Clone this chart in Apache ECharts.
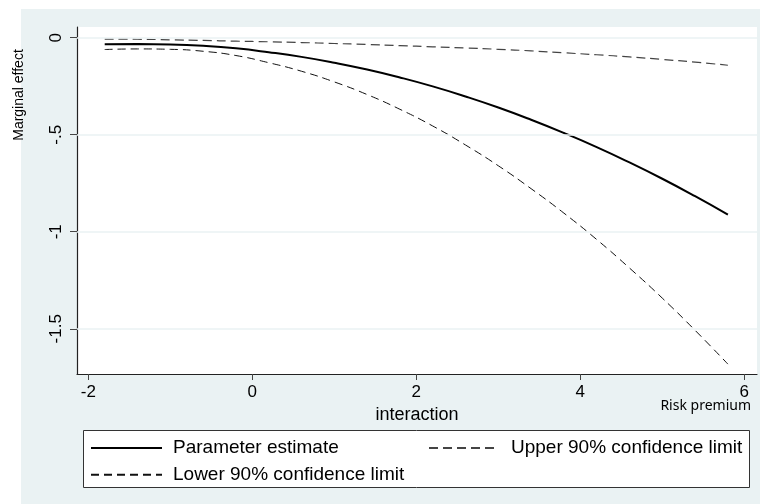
<!DOCTYPE html>
<html>
<head>
<meta charset="utf-8">
<script src="https://cdn.jsdelivr.net/npm/echarts@6/dist/echarts.min.js"></script>
<style>
html,body{margin:0;padding:0;background:#fff;}
#c{width:762px;height:504px;}
</style>
</head>
<body>
<div id="c"></div>
<script>
var xs = [-1.8,-1.4,-1,-0.6,-0.2,0.2,0.6,1,1.4,1.8,2.2,2.6,3,3.4,3.8,4.2,4.6,5,5.4,5.8];
var estimate = [-0.034,-0.033,-0.035,-0.042,-0.055,-0.075,-0.099,-0.129,-0.164,-0.205,-0.251,-0.303,-0.360,-0.423,-0.491,-0.564,-0.643,-0.727,-0.817,-0.912];
var upper = [-0.007,-0.008,-0.011,-0.014,-0.018,-0.021,-0.025,-0.030,-0.035,-0.041,-0.047,-0.053,-0.060,-0.068,-0.078,-0.088,-0.099,-0.112,-0.126,-0.142];
var lower = [-0.061,-0.058,-0.060,-0.070,-0.092,-0.129,-0.173,-0.228,-0.293,-0.369,-0.455,-0.553,-0.660,-0.778,-0.904,-1.040,-1.187,-1.342,-1.508,-1.682];
var xTicks = [-2,0,2,4,6];
var xTickLabels = ['-2','0','2','4','6'];
var yTicks = [0,-0.5,-1,-1.5];
var yTickLabels = ['0','-.5','-1','-1.5'];
var seriesNames = ['Parameter estimate','Upper 90% confidence limit','Lower 90% confidence limit'];
var xTitle = 'interaction';
var yTitle = 'Marginal effect';
var note = 'Risk premium';

function pairs(v){ return xs.map(function(x,i){ return [x, v[i]]; }); }
function lbl(ticks, labels){ return function(val){ for (var i=0;i<ticks.length;i++){ if (Math.abs(ticks[i]-val)<1e-9) return labels[i]; } return ''; }; }

var FONT = 'Liberation Sans';
var chart = echarts.init(document.getElementById('c'), null, {renderer:'canvas'});
var option = {
  animation: false,
  backgroundColor: '#ffffff',
  graphic: [
    {type:'rect', z:-10, shape:{x:21, y:9, width:739, height:495}, style:{fill:'#eaf2f3'}, silent:true},
    {type:'rect', z:5, shape:{x:83.5, y:430.5, width:666, height:57}, style:{fill:'#ffffff', stroke:'#333333', lineWidth:1}, silent:true},
    {type:'text', z:6, x:19, y:95, rotation:Math.PI/2, style:{text:yTitle, fontFamily:FONT, fontSize:14, fill:'#000', align:'center', verticalAlign:'middle'}},
    {type:'text', z:6, x:751, y:406, style:{text:note, fontFamily:'Noto Sans', fontSize:14, fill:'#000', align:'right', verticalAlign:'middle'}}
  ],
  grid: {left:77, top:27, width:680, height:347, show:true, backgroundColor:'#ffffff', borderWidth:0, containLabel:false},
  legend: [
    {data:[seriesNames[0], seriesNames[2]], orient:'vertical', left:90, top:437, padding:0, itemGap:4.7, itemWidth:71, itemHeight:14, z:10,
     itemStyle:{opacity:0, borderWidth:0},
     textStyle:{fontFamily:FONT, fontSize:19, color:'#000', lineHeight:22, padding:[0,0,0,6]}},
    {data:[seriesNames[1]], orient:'vertical', left:428, top:437, padding:0, itemWidth:70, itemHeight:14, z:10,
     itemStyle:{opacity:0, borderWidth:0},
     textStyle:{fontFamily:FONT, fontSize:19, color:'#000', lineHeight:22, padding:[0,0,0,7]}}
  ],
  xAxis: {
    type:'value', min:-2.138, max:6.155,
    name:xTitle, nameLocation:'middle', nameGap:27,
    nameTextStyle:{fontFamily:FONT, fontSize:18, color:'#000'},
    axisLine:{show:true, onZero:false, lineStyle:{color:'#222', width:1.2}},
    axisTick:{show:true, customValues:xTicks, length:6, lineStyle:{color:'#444', width:1}},
    axisLabel:{show:true, customValues:xTicks, formatter:lbl(xTicks,xTickLabels), margin:10, fontFamily:FONT, fontSize:17, color:'#000'},
    splitLine:{show:false}
  },
  yAxis: {
    type:'value', min:-1.733, max:0.055,
    axisLine:{show:true, onZero:false, lineStyle:{color:'#222', width:1.2}},
    axisTick:{show:true, customValues:yTicks, length:7, lineStyle:{color:'#444', width:1}},
    axisLabel:{show:true, customValues:yTicks, formatter:lbl(yTicks,yTickLabels), rotate:90, margin:12, fontFamily:FONT, fontSize:17, color:'#000'},
    splitLine:{show:false}
  },
  series: [
    {name:'gridlines', type:'line', data:[], z:1, silent:true,
     markLine:{silent:true, symbol:['none','none'], label:{show:false}, animation:false,
       lineStyle:{color:'#eaf2f3', width:1.6, type:'solid'},
       emphasis:{disabled:true},
       data: yTicks.map(function(v){ return {yAxis:v}; })}},
    {name:seriesNames[0], type:'line', data:pairs(estimate), smooth:true, symbol:'none', z:3,
     lineStyle:{color:'#000', width:2, type:'solid'}, itemStyle:{color:'#000'}},
    {name:seriesNames[1], type:'line', data:pairs(upper), smooth:true, symbol:'none', z:3,
     lineStyle:{color:'#444', width:1.2, type:[9,5]}, itemStyle:{color:'#444'}},
    {name:seriesNames[2], type:'line', data:pairs(lower), smooth:true, symbol:'none', z:3,
     lineStyle:{color:'#111', width:1, type:[8,5]}, itemStyle:{color:'#111'}}
  ]
};
chart.setOption(option);
</script>
</body>
</html>
